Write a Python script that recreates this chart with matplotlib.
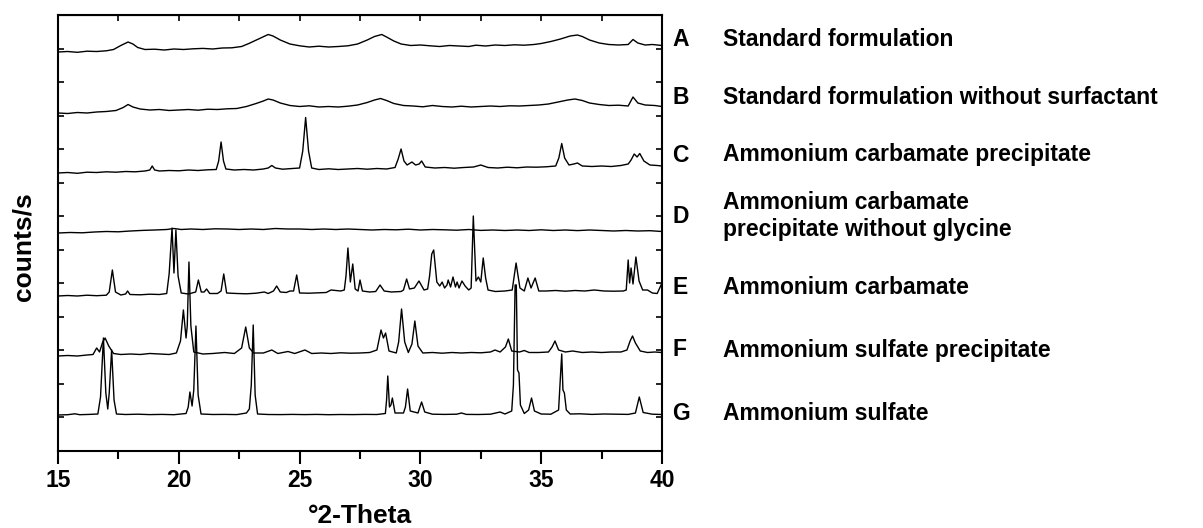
import numpy as np
import matplotlib
matplotlib.use("Agg")
import matplotlib.pyplot as plt
from matplotlib.ticker import MultipleLocator

plt.rcParams['font.family'] = ['Liberation Sans', 'DejaVu Sans']
plt.rcParams['font.weight'] = 'bold'

letters = ["A", "B", "C", "D", "E", "F", "G"]
names = ["Standard formulation",
         "Standard formulation without surfactant",
         "Ammonium carbamate precipitate",
         "Ammonium carbamate\nprecipitate without glycine",
         "Ammonium carbamate",
         "Ammonium sulfate precipitate",
         "Ammonium sulfate"]

# (2-theta, counts above the pattern's own start)
trace_a = [(15.0, 0), (15.4, 0.5), (15.8, -0.3), (16.2, 0.8), (16.6, 0.5), (17.0, 1.2), (17.3, 2.5),
           (17.6, 6.5), (17.9, 10), (18.1, 8), (18.3, 4.5), (18.6, 2.5), (19.0, 2.8), (19.4, 2),
           (19.8, 3), (20.2, 2.5), (20.6, 3.2), (21.0, 3.6), (21.4, 3), (21.8, 4), (22.2, 4.2),
           (22.6, 5.5), (22.9, 8.5), (23.3, 13), (23.7, 17.5), (23.9, 16), (24.2, 12), (24.6, 8),
           (25.0, 6.2), (25.4, 5), (25.8, 5.8), (26.2, 5), (26.6, 5.5), (27.0, 6.2), (27.4, 8),
           (27.8, 12), (28.1, 15.5), (28.4, 17.5), (28.6, 15), (28.9, 11), (29.2, 8), (29.6, 6.5),
           (30.0, 7), (30.4, 6.2), (30.8, 5.5), (31.2, 6.5), (31.6, 6), (32.0, 5.5), (32.3, 6.8),
           (32.7, 6), (33.1, 7), (33.5, 6.5), (33.9, 7.2), (34.3, 6.8), (34.7, 7.5), (35.0, 8.5),
           (35.4, 10.5), (35.8, 13), (36.2, 16), (36.5, 17), (36.7, 15.5), (37.0, 12), (37.4, 9),
           (37.8, 7.5), (38.2, 7), (38.6, 7.5), (38.8, 12.5), (39.0, 9), (39.3, 7), (39.6, 7.5),
           (40.0, 6.5)]

trace_b = [(15.0, 0), (15.4, -0.5), (15.8, 0.5), (16.2, 0), (16.6, 1), (17.0, 1.5), (17.4, 2.5),
           (17.7, 5.5), (17.9, 8.5), (18.1, 6), (18.4, 4), (18.8, 3), (19.2, 3.5), (19.6, 2.5),
           (20.0, 3), (20.4, 3.5), (20.8, 2.8), (21.2, 3.8), (21.6, 3.5), (22.0, 4.2), (22.4, 4.5),
           (22.8, 6.5), (23.2, 9.5), (23.5, 12), (23.7, 14), (23.9, 13), (24.2, 10), (24.6, 7.5),
           (25.0, 6.5), (25.4, 7.2), (25.8, 6), (26.2, 6.5), (26.6, 6), (27.0, 6.8), (27.4, 8),
           (27.8, 10.5), (28.1, 13), (28.35, 14.5), (28.6, 12.5), (28.9, 9.5), (29.3, 7.5),
           (29.7, 7), (30.1, 6.2), (30.5, 7.5), (30.9, 6.5), (31.3, 6), (31.7, 6.8), (32.1, 6),
           (32.5, 6.5), (32.9, 7), (33.3, 6.5), (33.7, 7.2), (34.1, 7), (34.5, 7.5), (34.9, 8),
           (35.3, 9), (35.7, 11), (36.1, 13), (36.4, 14), (36.7, 12.5), (37.0, 10), (37.4, 8.5),
           (37.8, 7.5), (38.2, 7.8), (38.6, 7), (38.8, 16), (39.0, 10), (39.3, 8), (39.7, 7.5),
           (40.0, 6.5)]

trace_c = [(15.0, 0), (15.4, 0.5), (15.8, -0.3), (16.2, 0.8), (16.6, 0.5), (17.0, 1.2), (17.4, 0.8),
           (17.8, 1.5), (18.2, 1.2), (18.6, 2), (18.8, 3), (18.9, 7), (19.0, 3), (19.2, 2),
           (19.6, 2.5), (20.0, 2.2), (20.4, 3), (20.8, 2.5), (21.2, 3.2), (21.55, 3.5), (21.65, 12),
           (21.75, 31), (21.85, 12), (21.95, 4), (22.3, 3), (22.7, 3.5), (23.1, 3), (23.5, 4),
           (23.7, 5), (23.85, 7.5), (24.0, 5), (24.3, 3.8), (24.7, 4.5), (25.0, 5), (25.13, 22),
           (25.25, 55.5), (25.37, 22), (25.5, 5), (25.8, 3.5), (26.2, 4.2), (26.6, 3.5), (27.0, 4),
           (27.4, 4.5), (27.8, 3.8), (28.2, 4.5), (28.6, 4), (28.95, 5.5), (29.08, 14), (29.2, 24),
           (29.32, 12), (29.45, 8), (29.65, 11), (29.8, 8), (29.95, 9), (30.05, 12), (30.2, 6),
           (30.6, 5), (31.0, 5.5), (31.4, 4.8), (31.8, 5.5), (32.2, 6), (32.5, 8), (32.8, 5.5),
           (33.2, 5), (33.6, 5.8), (34.0, 5.2), (34.4, 6), (34.8, 5.8), (35.2, 6.2), (35.6, 7),
           (35.73, 15), (35.85, 29.5), (35.97, 15), (36.15, 8), (36.35, 9), (36.5, 10), (36.7, 7),
           (37.1, 6.5), (37.5, 7), (37.9, 6.5), (38.3, 7.5), (38.6, 9), (38.72, 13), (38.85, 19),
           (38.97, 16), (39.08, 19.5), (39.25, 12), (39.5, 8), (39.8, 7.5), (40.0, 7)]

trace_d = [(15.0, 0), (15.5, 0.5), (16.0, 0.2), (16.5, 1), (17.0, 1.5), (17.5, 1.2), (18.0, 2),
           (18.5, 2.6), (19.0, 3), (19.5, 3.5), (19.8, 4.5), (20.1, 3.5), (20.5, 4), (21.0, 3.5),
           (21.5, 4.2), (22.0, 4), (22.5, 3.5), (23.0, 4), (23.5, 3.5), (24.0, 4.5), (24.5, 4),
           (25.0, 4), (25.5, 3.5), (26.0, 4), (26.5, 3.5), (27.0, 4), (27.5, 3.5), (28.0, 3),
           (28.5, 3.5), (29.0, 3.2), (29.5, 3.8), (30.0, 3), (30.5, 3.5), (31.0, 3.2), (31.5, 2.8),
           (32.0, 3.5), (32.5, 2.6), (33.0, 3), (33.5, 2.5), (34.0, 3), (34.5, 2.5), (35.0, 3.2),
           (35.5, 2.5), (36.0, 3), (36.5, 2.4), (37.0, 3), (37.5, 2.5), (38.0, 2), (38.5, 2.5),
           (39.0, 2), (39.5, 2.3), (40.0, 1.5)]

trace_e = [(15.0, 0), (15.4, 0.5), (15.8, 0), (16.2, 0.8), (16.6, 0.3), (17.0, 0.8), (17.12, 4),
           (17.25, 26), (17.38, 4), (17.6, 1), (17.8, 2), (17.88, 5), (17.98, 1.5), (18.4, 1.2),
           (18.8, 1.8), (19.2, 1.5), (19.5, 2.5), (19.6, 22), (19.72, 68), (19.8, 23), (19.88, 66),
           (19.97, 20), (20.1, 3), (20.4, 2), (20.7, 4), (20.81, 16), (20.93, 4), (21.05, 4),
           (21.15, 7), (21.28, 2.5), (21.6, 2.5), (21.75, 5), (21.86, 22), (21.98, 3), (22.4, 2.5),
           (22.8, 2.2), (23.2, 2.8), (23.54, 4), (23.7, 2.5), (23.92, 5), (24.05, 10), (24.2, 4),
           (24.45, 3.5), (24.6, 5), (24.75, 5), (24.88, 21), (25.0, 3), (25.4, 2.8), (25.8, 3.2),
           (26.1, 3.5), (26.3, 6), (26.5, 5.5), (26.7, 5), (26.85, 6), (26.92, 20), (27.0, 48),
           (27.1, 14), (27.2, 32), (27.3, 7), (27.42, 5), (27.5, 16), (27.6, 5), (27.9, 4),
           (28.15, 4.5), (28.33, 11), (28.5, 5), (28.8, 4), (29.2, 4.5), (29.3, 6), (29.43, 17),
           (29.55, 7), (29.75, 8), (29.94, 15), (30.15, 6), (30.3, 7), (30.38, 20), (30.47, 42),
           (30.55, 46), (30.68, 14), (30.8, 10), (30.9, 14), (31.0, 8), (31.1, 11), (31.15, 16),
           (31.25, 9), (31.35, 19), (31.45, 9), (31.52, 14), (31.6, 8), (31.72, 15), (31.85, 10),
           (32.0, 6), (32.1, 8), (32.19, 80), (32.3, 15), (32.4, 19), (32.5, 14), (32.6, 38),
           (32.7, 18), (32.8, 6), (33.1, 4.5), (33.5, 5), (33.8, 6), (33.96, 33), (34.12, 8),
           (34.3, 5), (34.45, 18), (34.58, 8), (34.75, 18), (34.9, 5), (35.2, 5), (35.6, 5.5),
           (36.0, 4.8), (36.4, 5.5), (36.8, 5), (37.2, 6), (37.6, 5), (38.0, 4.8), (38.4, 5),
           (38.52, 6), (38.6, 36), (38.66, 13), (38.72, 28), (38.8, 12), (38.92, 39), (39.05, 15),
           (39.2, 6), (39.4, 6), (39.6, 3), (39.8, 2.5), (40.0, 13)]

trace_f = [(15.0, 0), (15.4, 0.5), (15.8, 0), (16.2, 1), (16.45, 1.5), (16.6, 8), (16.72, 4),
           (16.85, 14), (16.95, 18), (17.1, 10), (17.3, 2.5), (17.6, 1.5), (18.0, 2), (18.4, 1.5),
           (18.8, 2.5), (19.2, 2), (19.6, 1.5), (19.9, 3), (20.07, 15), (20.19, 46), (20.3, 18),
           (20.35, 30), (20.42, 94), (20.5, 30), (20.62, 4), (21.0, 2), (21.4, 2.5), (21.9, 3.5),
           (22.3, 2.5), (22.6, 8), (22.77, 29), (22.92, 8), (23.1, 3), (23.5, 3), (23.85, 6),
           (24.1, 2.5), (24.52, 4.5), (24.8, 2.5), (25.22, 6), (25.5, 2.5), (25.9, 3), (26.3, 2.5),
           (26.7, 3.2), (27.1, 2.8), (27.5, 3), (27.9, 3.5), (28.2, 6), (28.37, 26), (28.47, 18),
           (28.56, 23), (28.7, 5), (29.0, 3), (29.1, 14), (29.22, 47), (29.35, 14), (29.5, 3.5),
           (29.65, 12), (29.77, 35), (29.9, 10), (30.1, 3), (30.5, 3.5), (30.9, 2.8), (31.3, 3.5),
           (31.7, 3), (32.1, 3.5), (32.5, 3.2), (32.9, 4), (33.09, 6), (33.3, 4), (33.52, 9),
           (33.64, 17), (33.78, 5), (34.1, 4), (34.3, 5.5), (34.5, 3.5), (34.9, 3.5), (35.3, 4),
           (35.45, 9), (35.57, 15), (35.72, 6), (36.0, 4), (36.3, 5), (36.7, 3.5), (37.1, 4),
           (37.5, 3.5), (37.9, 4), (38.3, 4), (38.55, 6), (38.68, 15), (38.78, 20), (38.9, 13),
           (39.1, 5), (39.4, 3.5), (39.7, 4), (40.0, 3.5)]

trace_g = [(15.0, 0), (15.4, 0.3), (15.7, 1.2), (15.9, 0.3), (16.3, 0.6), (16.65, 1), (16.76, 18),
           (16.88, 77), (16.98, 22), (17.06, 6), (17.12, 22), (17.22, 65), (17.32, 15), (17.42, 1),
           (17.8, 0.5), (18.3, 0.8), (18.8, 0.4), (19.3, 0.6), (19.8, 0.3), (20.3, 1.5), (20.39, 8),
           (20.46, 23), (20.55, 9), (20.62, 25), (20.71, 89), (20.8, 20), (20.92, 1), (21.4, 0.5),
           (21.9, 0.6), (22.4, 0.4), (22.8, 2), (22.92, 6), (23.0, 30), (23.08, 90), (23.16, 20),
           (23.26, 1), (23.7, 0.5), (24.2, 0.4), (24.7, 0.6), (25.2, 0.4), (25.7, 0.6), (26.2, 0.3),
           (26.7, 0.5), (27.2, 0.4), (27.7, 0.6), (28.2, 0.5), (28.55, 1.5), (28.6, 15), (28.65, 39),
           (28.72, 8), (28.78, 10), (28.84, 17), (28.95, 2), (29.3, 2), (29.38, 8), (29.47, 26),
           (29.58, 4), (29.9, 2), (29.98, 8), (30.05, 13), (30.18, 3), (30.5, 0.8), (31.0, 0.6),
           (31.5, 0.8), (31.7, 2), (31.9, 0.6), (32.4, 0.5), (32.9, 0.8), (33.3, 3), (33.5, 1),
           (33.78, 4), (33.85, 30), (33.92, 130), (33.97, 130), (34.02, 45), (34.08, 42), (34.14, 10),
           (34.3, 1.5), (34.48, 5), (34.6, 17), (34.72, 4), (35.0, 1), (35.4, 0.8), (35.72, 5),
           (35.8, 40), (35.85, 61), (35.9, 25), (35.96, 22), (36.04, 5), (36.2, 1), (36.6, 1.2),
           (37.1, 0.6), (37.6, 1), (38.1, 0.8), (38.6, 0.6), (38.9, 2), (39.06, 18), (39.22, 2.5),
           (39.6, 0.8), (40.0, 0.5)]

traces = [trace_a, trace_b, trace_c, trace_d, trace_e, trace_f, trace_g]
# vertical stacking offset of each pattern
offsets = [399, 338, 278, 218, 155, 95, 36]

W, H = 1203, 528
fig = plt.figure(figsize=(W / 100, H / 100), dpi=100)
ax = fig.add_axes([58 / W, 1 - 451 / H, 604 / W, 436 / H])

for tr, off in zip(traces, offsets):
    x, y = zip(*tr)
    ax.plot(x, np.array(y) + off, color="black", lw=1.0)

ax.set_xlim(15, 40)
ax.set_ylim(0, 436)
ax.set_xticks([15, 20, 25, 30, 35, 40])
ax.xaxis.set_minor_locator(MultipleLocator(2.5))
ax.yaxis.set_major_locator(MultipleLocator(436 / 13))
ax.tick_params(axis="x", which="major", direction="out", length=9, width=1.5,
               labelsize=16.5, pad=4)
ax.tick_params(axis="x", which="minor", direction="out", length=6, width=1.5)
ax.tick_params(axis="y", which="major", direction="in", length=4, width=1.2,
               left=True, right=True, labelleft=False)
for s in ax.spines.values():
    s.set_linewidth(1.5)

top = ax.secondary_xaxis("top")
top.set_xticks(np.arange(15, 40.1, 2.5))
top.tick_params(direction="in", length=4, width=1.2, labeltop=False)

fig.text(360 / W, 1 - 516 / H, "°2-Theta", ha="center", va="center", fontsize=19)
fig.text(23 / W, 1 - 247 / H, "counts/s", ha="center", va="center", fontsize=19, rotation=90)

label_y = [40, 97, 155, 216, 287, 350, 413]
for letter, name, ly in zip(letters, names, label_y):
    fig.text(672 / W, 1 - ly / H, letter, ha="left", va="center", fontsize=16.5)
    fig.text(723 / W, 1 - ly / H, name, ha="left", va="center", fontsize=16.5, linespacing=1.25)

fig.savefig("out.png", dpi=100)
